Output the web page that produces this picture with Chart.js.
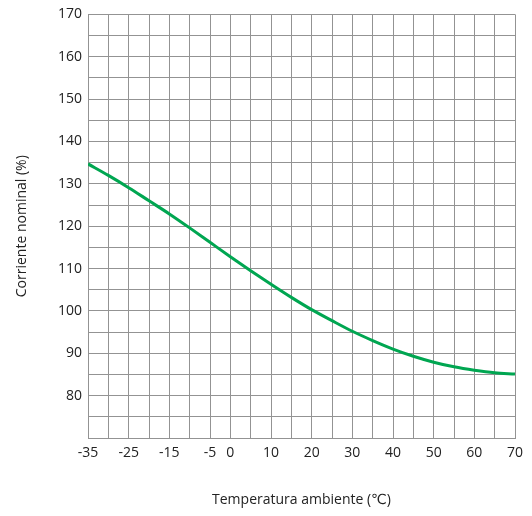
<!DOCTYPE html>
<html>
<head>
<meta charset="utf-8">
<script src="https://cdn.jsdelivr.net/npm/chart.js@4/dist/chart.umd.min.js"></script>
<style>
  html, body { margin: 0; padding: 0; background: #fff; }
  #wrap { width: 532px; height: 516px; }
</style>
</head>
<body>
<div id="wrap"><canvas id="chart"></canvas></div>
<script>
// === Data ===
const temps = [-35, -30, -25, -20, -15, -10, -5, 0, 5, 10, 15, 20, 25, 30, 35, 40, 45, 50, 55, 60, 65, 70];
const current = [134.7, 132.0, 129.1, 126.0, 122.9, 119.6, 116.2, 112.8, 109.5, 106.3, 103.2, 100.3,
                 97.7, 95.2, 93.0, 91.0, 89.3, 87.9, 86.8, 86.0, 85.4, 85.1];
const xLabels = [-35, -25, -15, -5, 0, 10, 20, 30, 40, 50, 60, 70];
const yLabels = [80, 90, 100, 110, 120, 130, 140, 150, 160, 170];

const xTitle = 'Temperatura ambiente (\u2103)';
const yTitle = 'Corriente nominal (%)';

// === Style ===
const FONT = '"Open Sans", "DejaVu Sans", sans-serif';
const GRID = '#939393';
const TEXT = '#222';

const points = temps.map((t, i) => ({ x: t, y: current[i] }));

new Chart(document.getElementById('chart'), {
    type: 'line',
    data: {
        datasets: [{
            data: points,
            borderColor: '#00a651',
            borderWidth: 3,
            pointRadius: 0,
            cubicInterpolationMode: 'monotone',
            fill: false
        }]
    },
    options: {
        responsive: true,
        maintainAspectRatio: false,
        animation: false,
        layout: { padding: { left: 0, right: 17, top: 14, bottom: 0 } },
        plugins: { legend: { display: false }, tooltip: { enabled: false } },
        scales: {
            x: {
                type: 'linear',
                min: -35,
                max: 70,
                afterFit: s => { s.height = 78; },
                grid: { color: GRID, lineWidth: 1, drawTicks: false },
                border: { color: GRID },
                ticks: {
                    stepSize: 5,
                    padding: 7,
                    autoSkip: false,
                    maxRotation: 0,
                    color: TEXT,
                    font: { family: FONT, size: 14 },
                    callback: v => xLabels.includes(v) ? String(v) : ''
                },
                title: {
                    display: true,
                    text: xTitle,
                    color: TEXT,
                    font: { family: FONT, size: 14 },
                    padding: { top: 0, bottom: 8 }
                }
            },
            y: {
                min: 70,
                max: 170,
                afterFit: s => { s.width = 88; },
                grid: { color: GRID, lineWidth: 1, drawTicks: false },
                border: { color: GRID },
                ticks: {
                    stepSize: 5,
                    padding: 6,
                    autoSkip: false,
                    color: TEXT,
                    font: { family: FONT, size: 14 },
                    callback: v => yLabels.includes(v) ? String(v) : ''
                },
                title: {
                    display: true,
                    text: yTitle,
                    color: TEXT,
                    font: { family: FONT, size: 14 },
                    padding: { top: 14, bottom: 0 }
                }
            }
        }
    }
});
</script>
</body>
</html>
